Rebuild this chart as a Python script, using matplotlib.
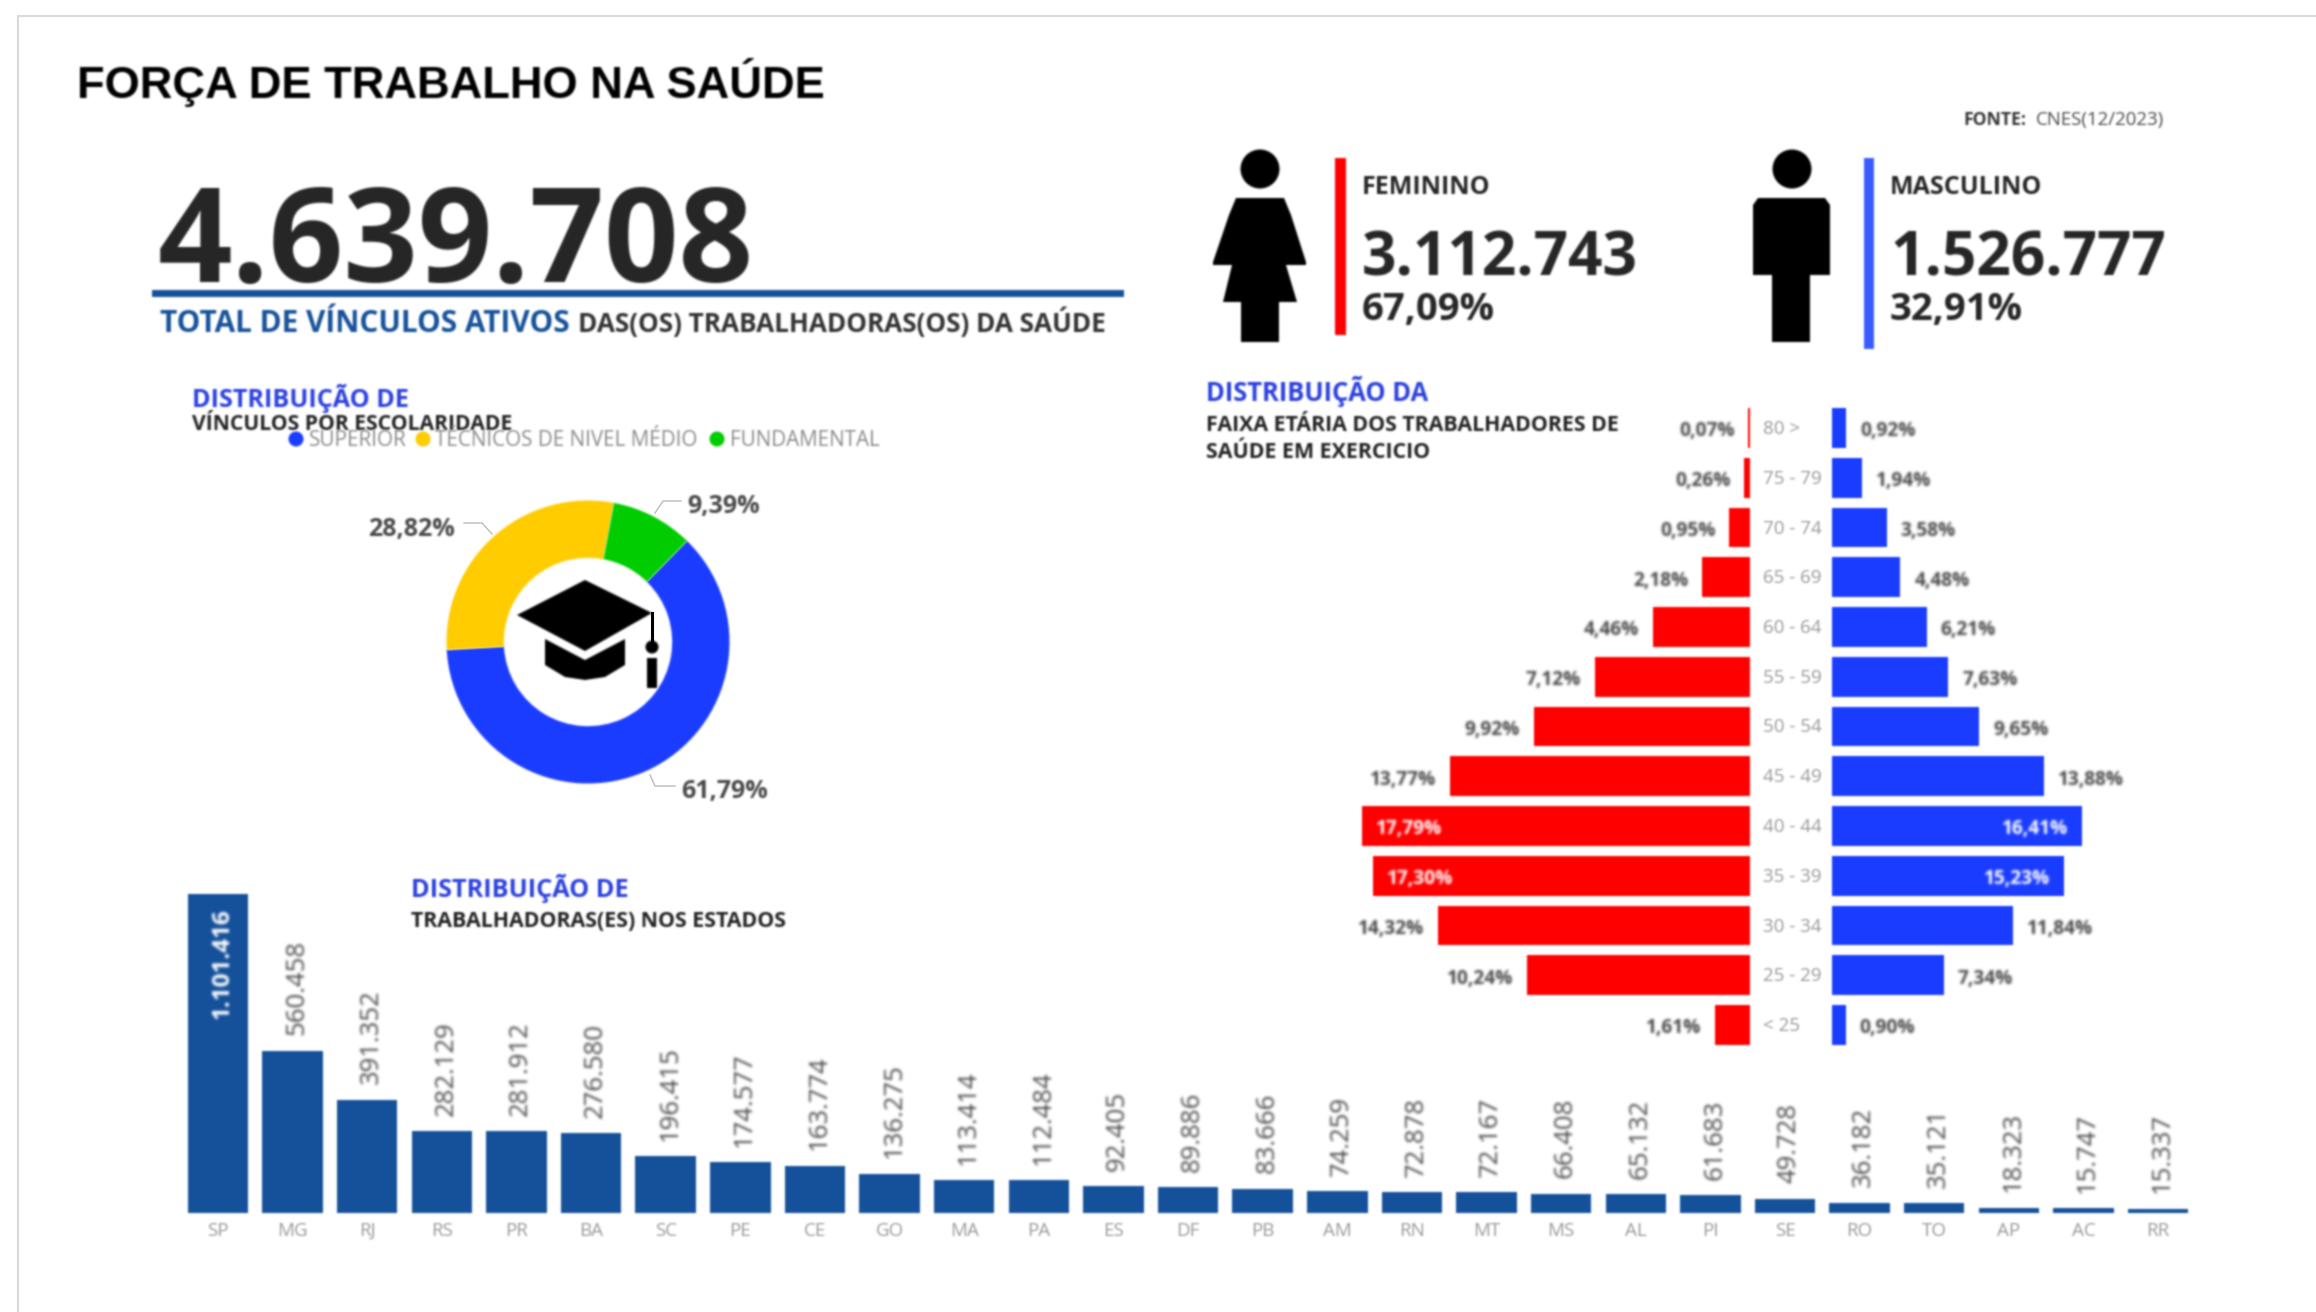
import matplotlib

matplotlib.use("Agg")
import matplotlib.pyplot as plt
import numpy as np
from matplotlib.patches import Ellipse, Polygon, Rectangle, Wedge
from matplotlib.text import Text

# canvas size in pixels, everything on the overlay axes is placed in these units
W, H = 2316, 1312

states = ["SP", "MG", "RJ", "RS", "PR", "BA", "SC", "PE", "CE", "GO", "MA", "PA", "ES", "DF",
          "PB", "AM", "RN", "MT", "MS", "AL", "PI", "SE", "RO", "TO", "AP", "AC", "RR"]
state_values = [1101416, 560458, 391352, 282129, 281912, 276580, 196415, 174577, 163774,
                136275, 113414, 112484, 92405, 89886, 83666, 74259, 72878, 72167, 66408,
                65132, 61683, 49728, 36182, 35121, 18323, 15747, 15337]

age_groups = ["80 >", "75 - 79", "70 - 74", "65 - 69", "60 - 64", "55 - 59", "50 - 54",
              "45 - 49", "40 - 44", "35 - 39", "30 - 34", "25 - 29", "< 25"]
female_pct = [0.07, 0.26, 0.95, 2.18, 4.46, 7.12, 9.92, 13.77, 17.79, 17.30, 14.32, 10.24, 1.61]
male_pct = [0.92, 1.94, 3.58, 4.48, 6.21, 7.63, 9.65, 13.88, 16.41, 15.23, 11.84, 7.34, 0.90]

school_labels = ["SUPERIOR", "TÉCNICOS DE NIVEL MÉDIO", "FUNDAMENTAL"]
school_pct = [61.79, 28.82, 9.39]

BAR_BLUE = "#15529A"
BLUE = "#1A3CFF"
RED = "#FF0000"
YELLOW = "#FFCC00"
GREEN = "#00CC00"
HEAD_BLUE = "#2B40E0"
DARK = "#262626"
GRAY = "#4A4A4A"
LIGHT = "#999999"

plt.rcParams["font.family"] = ["Open Sans", "DejaVu Sans"]


def soften(image, dpi):
    """Slight blur, the reference is an upscaled screenshot."""
    pad = 4
    out = np.pad(image, ((pad, pad), (pad, pad), (0, 0)))
    alpha = out[..., 3]
    weighted = out[..., :3] * alpha[..., None]
    kernel = [(-2, 0.06), (-1, 0.24), (0, 0.40), (1, 0.24), (2, 0.06)]

    def blur(a):
        a = sum(k * np.roll(a, s, axis=0) for s, k in kernel)
        return sum(k * np.roll(a, s, axis=1) for s, k in kernel)

    alpha2 = blur(alpha)
    rgb = blur(weighted) / np.maximum(alpha2[..., None], 1e-4)
    return np.dstack([np.clip(rgb, 0, 1), alpha2]), -pad, -pad


def px_axes(fig, left, top, right, bottom):
    """Axes from pixel edges, y counted from the top of the image."""
    ax = fig.add_axes([left / W, 1 - bottom / H, (right - left) / W, (bottom - top) / H])
    ax.patch.set_alpha(0)
    return ax


def br_pct(v):
    return f"{v:.2f}".replace(".", ",") + "%"


def br_int(v):
    return f"{v:,}".replace(",", ".")


def draw_state_bars(fig):
    ax = px_axes(fig, 180.7, 880, 2195.4, 1213)
    xs = range(len(states))
    ax.bar(xs, state_values, width=0.81, color=BAR_BLUE)
    ax.set_xlim(-0.5, len(states) - 0.5)
    ax.set_ylim(0, state_values[0] * 333 / 319)
    ax.set_yticks([])
    ax.set_xticks(list(xs), states, fontsize=13.5, color=LIGHT)
    ax.tick_params(axis="x", length=0, pad=6.5)
    for side in ax.spines.values():
        side.set_visible(False)
    for i, v in enumerate(state_values):
        inside = i == 0
        ax.annotate(br_int(v), (i, v), xytext=(3, -10 if inside else 11),
                    textcoords="offset points", rotation=90, ha="center",
                    va="top" if inside else "bottom", fontsize=17.5 if inside else 18.5,
                    fontweight="bold" if inside else "normal",
                    color="white" if inside else GRAY)


def draw_pyramid_side(fig, left, right, xmax, values, colour, inverted):
    ax = px_axes(fig, left, 403.1, right, 1049.9)
    rows = range(len(values))
    ax.barh(rows, values, height=0.80, color=colour)
    ax.set_ylim(len(values) - 0.5, -0.5)
    ax.set_xlim(xmax, 0) if inverted else ax.set_xlim(0, xmax)
    ax.axis("off")
    for i, v in enumerate(values):
        inside = v >= 15
        shift = 10 if inside == inverted else -10
        if not inside:
            ha = "right" if inverted else "left"
        else:
            ha = "left" if inverted else "right"
        ax.annotate(br_pct(v), (v, i), xytext=(shift, -2.5), textcoords="offset points",
                    ha=ha, va="center", fontsize=13.8, fontweight="bold",
                    color="white" if inside else GRAY)


def draw_donut(fig):
    ax = px_axes(fig, 446.5, 500.5, 729.5, 783.5)
    ax.pie(school_pct, colors=[BLUE, YELLOW, GREEN], startangle=45.6, counterclock=False,
           radius=1.0, wedgeprops={"width": 0.405})
    ax.set_xlim(-1, 1)
    ax.set_ylim(-1, 1)


def draw_cap(ov):
    ov.add_patch(Polygon([(517, 615), (585, 580), (652, 613), (585, 651)], color="black", lw=0))
    ov.add_patch(Polygon([(545, 639), (585, 660), (625, 639), (625, 665), (605, 677), (585, 680),
                          (565, 677), (545, 665)], color="black", lw=0))
    ov.plot([652, 652], [613, 647], color="black", lw=2.2)
    ov.add_patch(Ellipse((652, 647), 13, 13, color="black", lw=0))
    ov.add_patch(Rectangle((647, 658), 10, 30, color="black", lw=0))


def draw_people(ov):
    # woman
    ov.add_patch(Ellipse((1260, 169), 39, 39, color="black", lw=0))
    ov.add_patch(Polygon([(1236, 198), (1284, 198), (1291, 215), (1306, 262), (1306, 265), (1286, 265),
                          (1297, 302), (1279, 302), (1279, 342), (1241, 342), (1241, 302), (1223, 302),
                          (1232, 265), (1213, 265), (1213, 262), (1229, 215)], color="black", lw=0))
    # man
    ov.add_patch(Ellipse((1792, 169), 39, 39, color="black", lw=0))
    ov.add_patch(Polygon([(1758, 198), (1825, 198), (1830, 205), (1830, 275), (1810, 275), (1810, 342),
                          (1772, 342), (1772, 275), (1753, 275), (1753, 205)], color="black", lw=0))


def main():
    fig = plt.figure(figsize=(W / 100, H / 100), dpi=100, facecolor="white")

    draw_state_bars(fig)
    draw_pyramid_side(fig, 1300, 1750, 450 / 21.8, female_pct, RED, True)
    draw_pyramid_side(fig, 1832, 2232, 400 / 15.25, male_pct, BLUE, False)
    draw_donut(fig)

    ov = fig.add_axes([0, 0, 1, 1])
    ov.patch.set_alpha(0)
    ov.set_xlim(0, W)
    ov.set_ylim(H, 0)
    ov.axis("off")

    # page border of the screenshot
    ov.plot([18, 18, W], [H, 16, 16], color="#D9D9D9", lw=1.5)

    def put(x, y, s, size, colour=DARK, weight="normal", **kw):
        ov.text(x, y, s, fontsize=size, color=colour, fontweight=weight, va="baseline", **kw)

    put(77, 98, "FORÇA DE TRABALHO NA SAÚDE", 32.6, "#000000", "bold", family=["Liberation Sans"])
    put(158, 282, br_int(4639708), 94, DARK, "bold")
    ov.add_patch(Rectangle((152, 290), 972, 7, color=BAR_BLUE, lw=0))
    put(160, 332, "TOTAL DE VÍNCULOS ATIVOS", 21.4, BAR_BLUE, "bold")
    put(578, 332, "DAS(OS) TRABALHADORAS(OS) DA SAÚDE", 18.8, "#333333", "bold")

    put(1963, 125, "FONTE:", 12.6, "#333333", "bold")
    put(2036, 125, "CNES(12/2023)", 13.4, GRAY)

    draw_people(ov)
    ov.add_patch(Rectangle((1335, 158), 11, 177, color=RED, lw=0))
    ov.add_patch(Rectangle((1864, 158), 10, 191, color="#3A5CFF", lw=0))
    put(1362, 194, "FEMININO", 18, DARK, "bold")
    put(1362, 275, "3.112.743", 43.5, DARK, "bold")
    put(1362, 320, "67,09%", 27.5, DARK, "bold")
    put(1890, 194, "MASCULINO", 18, DARK, "bold")
    put(1890, 275, "1.526.777", 43.5, DARK, "bold")
    put(1890, 320, "32,91%", 27.5, DARK, "bold")

    put(192, 407, "DISTRIBUIÇÃO DE", 18.1, HEAD_BLUE, "bold")
    put(192, 430, "VÍNCULOS POR ESCOLARIDADE", 15.2, "#222222", "bold")
    put(1206, 401, "DISTRIBUIÇÃO DA", 18.4, HEAD_BLUE, "bold")
    put(1206, 431, "FAIXA ETÁRIA DOS TRABALHADORES DE", 15.4, "#222222", "bold")
    put(1206, 458, "SAÚDE EM EXERCICIO", 15.4, "#222222", "bold")
    put(411, 897, "DISTRIBUIÇÃO DE", 18.2, HEAD_BLUE, "bold")
    put(411, 927, "TRABALHADORAS(ES) NOS ESTADOS", 15.4, "#222222", "bold")

    # donut legend
    for dot_x, text_x, label, colour in zip((296, 423, 717), (309, 435, 730), school_labels,
                                            (BLUE, YELLOW, GREEN)):
        ov.add_patch(Ellipse((dot_x, 439), 15, 15, color=colour, lw=0))
        put(text_x, 446, label, 14.9, "#8A8A8A")

    # donut labels and leaders
    put(681, 798, br_pct(school_pct[0]), 18, GRAY, "bold")
    put(368, 536, br_pct(school_pct[1]), 18, GRAY, "bold")
    put(687, 513, br_pct(school_pct[2]), 18, GRAY, "bold")
    for xs, ys in (([650, 655, 675], [775, 786, 786]), ([492, 482, 464], [534, 523, 523]),
                   ([655, 663, 681], [513, 501, 501])):
        ov.plot(xs, ys, color="#BBBBBB", lw=1)

    draw_cap(ov)

    # age labels between the two halves of the pyramid
    for i, label in enumerate(age_groups):
        ov.text(1763, 429 + i * 597 / 12, label, fontsize=13.5, color=LIGHT, ha="left", va="center")

    for artist in fig.findobj(lambda a: isinstance(a, (Text, Rectangle, Polygon, Ellipse, Wedge))):
        if artist.get_figure() is not None and artist is not fig.patch and artist.get_visible():
            if isinstance(artist, Text) and not artist.get_text():
                continue
            artist.set_agg_filter(soften)

    fig.savefig("out.png", dpi=100, facecolor="white")


if __name__ == "__main__":
    main()
